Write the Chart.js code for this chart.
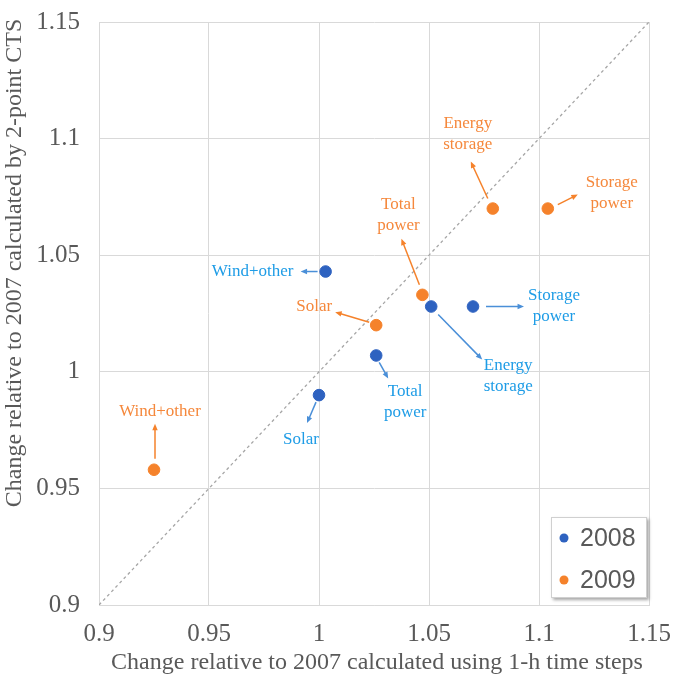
<!DOCTYPE html>
<html lang="en">
  <head>
    <meta charset="UTF-8" />
    <title>CTS comparison</title>
    <script src="https://cdn.jsdelivr.net/npm/chart.js"></script>
    <style>
      * {
        margin: 0;
        padding: 0;
        box-sizing: border-box;
      }

      body {
        background: #ffffff;
      }

      .chart-box {
        width: 673px;
        height: 679px;
      }
    </style>
  </head>
  <body>
    <div class="chart-box">
      <canvas id="ctsChart" width="673" height="679"></canvas>
    </div>

    <script>
      // data
      const categories = ["Wind+other", "Solar", "Total power", "Energy storage", "Storage power"];
      const seriesNames = ["2008", "2009"];
      const x2008 = [1.003, 1.0, 1.026, 1.051, 1.07];
      const y2008 = [1.043, 0.99, 1.007, 1.028, 1.028];
      const x2009 = [0.925, 1.026, 1.047, 1.079, 1.104];
      const y2009 = [0.958, 1.02, 1.033, 1.07, 1.07];
      const tickValues = [0.9, 0.95, 1, 1.05, 1.1, 1.15];
      const parityLine = [0.9, 1.15];

      const blue = "#2e62c0";
      const orange = "#f5822b";
      const blueText = "#1e9ce6";
      const orangeText = "#f5883c";
      const blueArrow = "#4a8fd8";
      const grey = "#595959";

      // label placement, pixel offsets from each point: arrow start, arrow end, text centre
      const labels2008 = [
        { a: [-8, 0], b: [-25, 0], t: [-73, 0] },
        { a: [-3, 7], b: [-12, 28], t: [-18, 44] },
        { a: [3, 7], b: [12, 23], t: [29, 36] },
        { a: [7, 8], b: [51, 53], t: [77, 59] },
        { a: [13, 0], b: [51, 0], t: [81, -11] },
      ];
      const labels2009 = [
        { a: [1, -11], b: [1, -46], t: [6, -58] },
        { a: [-7, -3], b: [-41, -13], t: [-62, -19] },
        { a: [-3, -10], b: [-21, -56], t: [-24, -90] },
        { a: [-5, -10], b: [-22, -47], t: [-25, -85] },
        { a: [10, -4], b: [30, -14], t: [64, -26] },
      ];

      const toPoints = (xs, ys) => xs.map((x, i) => ({ x: x, y: ys[i] }));

      function arrow(ctx, x1, y1, x2, y2, color) {
        const ang = Math.atan2(y2 - y1, x2 - x1);
        ctx.strokeStyle = color;
        ctx.fillStyle = color;
        ctx.lineWidth = 1.5;
        ctx.beginPath();
        ctx.moveTo(x1, y1);
        ctx.lineTo(x2 - 4 * Math.cos(ang), y2 - 4 * Math.sin(ang));
        ctx.stroke();
        ctx.beginPath();
        ctx.moveTo(x2, y2);
        ctx.lineTo(x2 - 7 * Math.cos(ang - 0.4), y2 - 7 * Math.sin(ang - 0.4));
        ctx.lineTo(x2 - 7 * Math.cos(ang + 0.4), y2 - 7 * Math.sin(ang + 0.4));
        ctx.closePath();
        ctx.fill();
      }

      const annotations = {
        id: "annotations",
        afterDatasetsDraw(chart) {
          const ctx = chart.ctx;
          const xs = chart.scales.x;
          const ys = chart.scales.y;
          const groups = [
            { xv: x2008, yv: y2008, lay: labels2008, line: blueArrow, text: blueText },
            { xv: x2009, yv: y2009, lay: labels2009, line: orange, text: orangeText },
          ];
          ctx.save();
          groups.forEach((g) => {
            categories.forEach((name, i) => {
              const px = xs.getPixelForValue(g.xv[i]);
              const py = ys.getPixelForValue(g.yv[i]);
              const l = g.lay[i];
              arrow(ctx, px + l.a[0], py + l.a[1], px + l.b[0], py + l.b[1], g.line);
              ctx.fillStyle = g.text;
              ctx.font = "17px 'Liberation Serif', serif";
              ctx.textAlign = "center";
              ctx.textBaseline = "middle";
              const words = name.includes(" ") ? name.split(" ") : [name];
              words.forEach((w, k) => {
                ctx.fillText(w, px + l.t[0], py + l.t[1] + k * 21);
              });
            });
          });
          ctx.restore();
        },
        afterDraw(chart) {
          const ctx = chart.ctx;
          ctx.save();
          // axis titles
          ctx.fillStyle = grey;
          ctx.font = "24px 'Liberation Serif', serif";
          ctx.textAlign = "center";
          ctx.textBaseline = "middle";
          ctx.fillText("Change relative to 2007 calculated using 1-h time steps", 377, 663);
          ctx.translate(15, 263);
          ctx.rotate(-Math.PI / 2);
          ctx.fillText("Change relative to 2007 calculated by 2-point CTS", 0, 0);
          ctx.restore();

          // legend box
          ctx.save();
          ctx.shadowColor = "rgba(0,0,0,0.35)";
          ctx.shadowBlur = 3;
          ctx.shadowOffsetX = 2;
          ctx.shadowOffsetY = 2;
          ctx.fillStyle = "#ffffff";
          ctx.fillRect(551, 517, 96, 81);
          ctx.restore();
          ctx.save();
          ctx.strokeStyle = "#d0d0d0";
          ctx.lineWidth = 1;
          ctx.strokeRect(551.5, 517.5, 95, 80);
          [blue, orange].forEach((c, k) => {
            const cy = 538 + k * 42;
            ctx.fillStyle = c;
            ctx.beginPath();
            ctx.arc(564, cy, 4.5, 0, Math.PI * 2);
            ctx.fill();
            ctx.fillStyle = grey;
            ctx.font = "25px 'Liberation Sans', sans-serif";
            ctx.textAlign = "left";
            ctx.textBaseline = "middle";
            ctx.fillText(seriesNames[k], 580, cy + 1);
          });
          ctx.restore();
        },
      };

      new Chart(document.getElementById("ctsChart"), {
        type: "scatter",
        data: {
          datasets: [
            {
              type: "line",
              label: "parity",
              data: toPoints(parityLine, parityLine),
              borderColor: "#a6a6a6",
              borderWidth: 1.3,
              borderDash: [3, 3],
              pointRadius: 0,
              fill: false,
            },
            {
              label: seriesNames[0],
              data: toPoints(x2008, y2008),
              backgroundColor: blue,
              borderColor: blue,
              pointRadius: 5.8,
            },
            {
              label: seriesNames[1],
              data: toPoints(x2009, y2009),
              backgroundColor: orange,
              borderColor: orange,
              pointRadius: 5.8,
            },
          ],
        },
        options: {
          responsive: false,
          animation: false,
          layout: {
            padding: { top: 22, right: 24, left: 0, bottom: 0 },
          },
          plugins: {
            legend: { display: false },
            tooltip: { enabled: false },
          },
          scales: {
            x: {
              type: "linear",
              min: 0.9,
              max: 1.15,
              afterFit: (s) => {
                s.height = 74;
                s.paddingLeft = 0;
                s.paddingRight = 0;
              },
              afterBuildTicks: (s) => {
                s.ticks = tickValues.map((v) => ({ value: v }));
              },
              grid: { color: "#d9d9d9", drawTicks: false },
              border: { color: "#d9d9d9" },
              ticks: {
                padding: 14,
                color: grey,
                font: { family: "'Liberation Serif', serif", size: 25 },
                callback: (v) => String(Number(v.toFixed(2))),
              },
            },
            y: {
              type: "linear",
              min: 0.9,
              max: 1.15,
              afterFit: (s) => {
                s.width = 99;
                s.paddingTop = 0;
                s.paddingBottom = 0;
              },
              afterBuildTicks: (s) => {
                s.ticks = tickValues.map((v) => ({ value: v }));
              },
              grid: { color: "#d9d9d9", drawTicks: false },
              border: { color: "#d9d9d9" },
              ticks: {
                padding: 19,
                color: grey,
                font: { family: "'Liberation Serif', serif", size: 25 },
                callback: (v) => String(Number(v.toFixed(2))),
              },
            },
          },
        },
        plugins: [annotations],
      });
    </script>
  </body>
</html>
